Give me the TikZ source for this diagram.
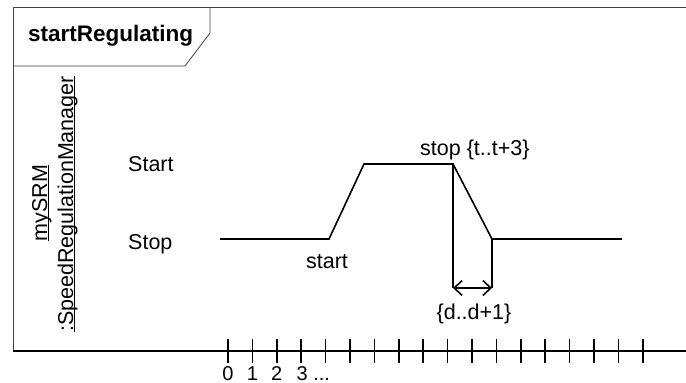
\documentclass[tikz,border=0pt]{standalone}
\usepackage{fontspec}
\setmainfont{Liberation Sans}
\usetikzlibrary{arrows.meta}

\newcommand{\ulname}[1]{\underline{\smash{#1}}}

\begin{document}
\begin{tikzpicture}[x=1pt, y=-1pt,
  frameline/.style={line width=0.8pt, black!75},
  wave/.style={line width=1.6pt, line join=miter},
  tickline/.style={line width=1.6pt},
  txt/.style={font=\fontsize{21.5}{26}\selectfont, inner sep=0pt},
  titletxt/.style={font=\fontsize{22.5}{27}\selectfont\bfseries, inner sep=0pt},
  digit/.style={font=\fontsize{20}{24}\selectfont, inner sep=0pt}]
  \useasboundingbox (0,0) rectangle (686,383);

  % frame and title tab
  \draw[frameline] (686,7) -- (13,7) -- (13,351);
  \draw[frameline] (13,66) -- (185,66) -- (210,33) -- (210,7);
  \node[titletxt, anchor=base west] (title) at (28,41.7) {startRegulating};

  % lifeline
  \node[txt, rotate=90, anchor=base] (inst) at (47,203) {\ulname{mySRM}};
  \node[txt, rotate=90, anchor=base] (cls) at (73,204) {\ulname{:SpeedRegulationManager}};

  % states
  \node[txt, anchor=base west] (start) at (128,171) {Start};
  \node[txt, anchor=base west] (stop) at (128,249.5) {Stop};

  % state line
  \coordinate (w0) at (220,239);
  \coordinate (w1) at (329,239);
  \coordinate (w2) at (364,164);
  \coordinate (w3) at (453,164);
  \coordinate (w4) at (492,239);
  \coordinate (w5) at (622,239);
  \draw[wave] (w0) -- (w1) -- (w2) -- (w3) -- (w4) -- (w5);
  \node[txt, anchor=base] (evstart) at (327,268) {start};
  \node[txt, anchor=base west] (evstop) at (420,155) {stop \{t..t+3\}};

  % duration constraint
  \coordinate (d1) at (453,288);
  \coordinate (d2) at (492,288);
  \draw[wave] (w3) -- (d1);
  \draw[wave] (w4) -- (d2);
  \draw[wave, {Straight Barb[length=8pt, width=15pt]}-{Straight Barb[length=8pt, width=15pt]}] (d1) -- (d2);
  \node[txt, anchor=base] (dur) at (474,319) {\{d..d+1\}};

  % time axis
  \draw[line width=1.6pt] (13,351) -- (686,351);
  \foreach \i in {0,...,17}
    \draw[tickline] (228+24.4*\i,339) -- (228+24.4*\i,363);
  \node[digit, anchor=base] (t0) at (228,380) {0};
  \node[digit, anchor=base] (t1) at (252.4,380) {1};
  \node[digit, anchor=base] (t2) at (276.8,380) {2};
  \node[digit, anchor=base west] (t3) at (296.5,380) {3 ...};
\end{tikzpicture}
\end{document}
